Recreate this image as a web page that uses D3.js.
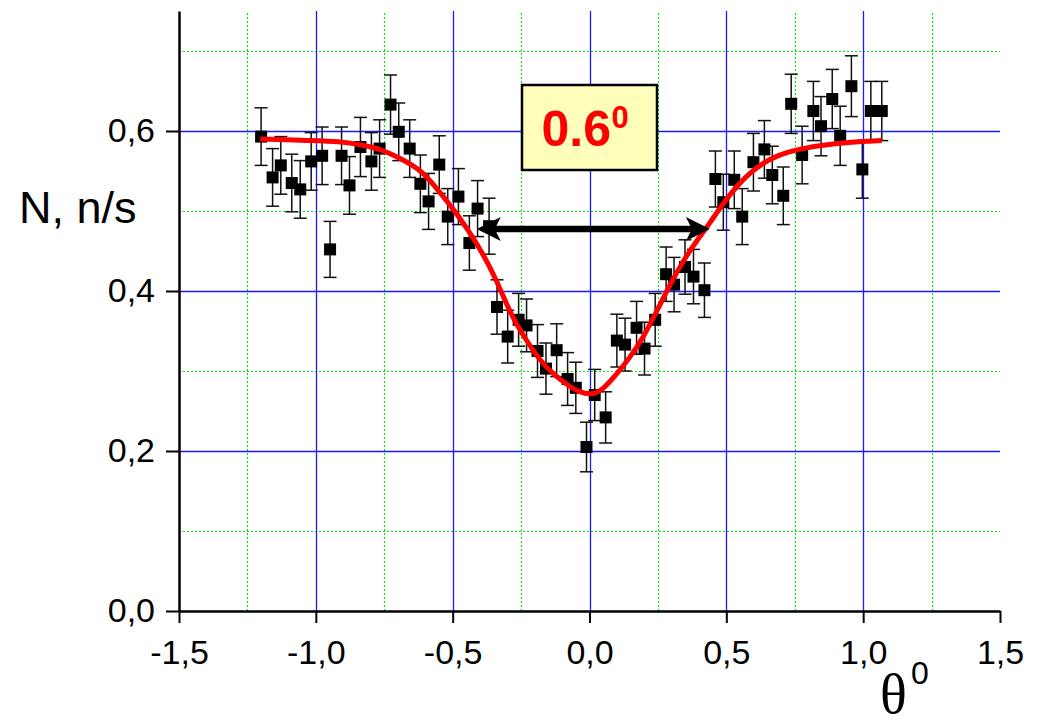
<!DOCTYPE html>
<html>
<head>
<meta charset="utf-8">
<script src="https://cdn.jsdelivr.net/npm/d3@7/dist/d3.min.js"></script>
<style>
  body { margin: 0; background: #fff; }
  svg { display: block; }
  .tick text { font-family: "Liberation Sans", Arial, sans-serif; fill: #000; }
</style>
</head>
<body>
<div class="container"></div>
<script>
const WIDTH = 1039;
const HEIGHT = 724;
const LEFT = 179;
const RIGHT = 1000;
const TOP = 11;
const BOTTOM = 611;

// measured points, theta in degrees, N in n/s
var thetaValues = [-1.200,-1.158,-1.128,-1.088,-1.057,-1.017,-0.977,-0.948,-0.906,-0.877,
    -0.837,-0.797,-0.767,-0.727,-0.697,-0.657,-0.618,-0.588,-0.549,-0.518,
    -0.479,-0.439,-0.409,-0.367,-0.338,-0.299,-0.259,-0.230,-0.190,-0.159,
    -0.120,-0.080,-0.050,-0.011,0.019,0.059,0.100,0.130,0.172,0.201,
    0.240,0.280,0.309,0.349,0.380,0.420,0.460,0.489,0.529,0.558,
    0.599,0.639,0.668,0.708,0.737,0.777,0.818,0.846,0.887,0.916,
    0.957,0.997,1.028,1.068];
var countValues = [0.593,0.542,0.557,0.535,0.527,0.562,0.569,0.452,0.569,0.532,
    0.580,0.562,0.578,0.633,0.599,0.578,0.534,0.512,0.558,0.493,
    0.518,0.460,0.503,0.481,0.380,0.343,0.364,0.357,0.325,0.303,
    0.326,0.290,0.279,0.205,0.270,0.242,0.338,0.333,0.354,0.328,
    0.364,0.421,0.408,0.430,0.418,0.401,0.540,0.511,0.539,0.493,
    0.561,0.577,0.545,0.519,0.634,0.570,0.625,0.606,0.640,0.594,
    0.656,0.552,0.625,0.625];
var errorValues = [0.036,0.036,0.036,0.036,0.036,0.036,0.036,0.035,0.036,0.036,
    0.037,0.036,0.036,0.037,0.036,0.036,0.036,0.035,0.036,0.035,
    0.035,0.034,0.035,0.035,0.034,0.033,0.033,0.033,0.033,0.032,
    0.033,0.033,0.032,0.031,0.032,0.032,0.033,0.033,0.033,0.033,
    0.033,0.034,0.034,0.034,0.034,0.034,0.035,0.035,0.036,0.035,
    0.036,0.036,0.036,0.036,0.037,0.036,0.037,0.037,0.037,0.037,
    0.038,0.036,0.037,0.037];

// fit curve
var fitTheta = [-1.203,-1.021,-0.912,-0.839,-0.766,-0.692,-0.619,-0.570,-0.510,-0.448,
    -0.388,-0.339,-0.303,-0.266,-0.230,-0.181,-0.132,-0.083,-0.035,0.010,
    0.050,0.099,0.148,0.197,0.246,0.294,0.343,0.392,0.440,0.489,
    0.538,0.586,0.635,0.684,0.757,0.890,1.068];
var fitCounts = [0.590,0.588,0.587,0.583,0.578,0.566,0.552,0.533,0.508,0.479,
    0.446,0.413,0.383,0.358,0.338,0.313,0.296,0.283,0.273,0.270,
    0.277,0.296,0.317,0.342,0.375,0.408,0.438,0.463,0.485,0.510,
    0.531,0.548,0.560,0.569,0.577,0.585,0.588];

// FWHM arrow: from, to, level
var fwhmArrow = [-0.412, 0.440, 0.4775];
var fwhmLabel = "0.6";

var xMajor = [-1.5,-1.0,-0.5,0.0,0.5,1.0,1.5];
var xTickLabels = ["-1,5","-1,0","-0,5","0,0","0,5","1,0","1,5"];
var xMinor = [-1.25,-0.75,-0.25,0.25,0.75,1.25];
var yMajor = [0.0,0.2,0.4,0.6];
var yTickLabels = ["0,0","0,2","0,4","0,6"];
var yMinor = [0.1,0.3,0.5,0.7];

var xScale = d3.scaleLinear().domain([-1.5, 1.5]).range([LEFT, RIGHT]);
var yScale = d3.scaleLinear().domain([0, 0.75]).range([BOTTOM, TOP]);

// centre thin lines on a pixel
var px = function (v) { return Math.round(v) + 0.5; };

var svg = d3.select('.container').append('svg')
    .attr('width', WIDTH)
    .attr('height', HEIGHT);

var drawGrid = function () {
    var g = svg.append('g');
    g.selectAll('line.gxm').data(xMinor).enter().append('line')
        .attr('x1', d => px(xScale(d))).attr('x2', d => px(xScale(d)))
        .attr('y1', BOTTOM).attr('y2', TOP)
        .attr('stroke', '#00ee00').attr('stroke-width', 1.2).attr('stroke-dasharray', '2,2');
    g.selectAll('line.gym').data(yMinor).enter().append('line')
        .attr('x1', LEFT).attr('x2', RIGHT)
        .attr('y1', d => px(yScale(d))).attr('y2', d => px(yScale(d)))
        .attr('stroke', '#00ee00').attr('stroke-width', 1.2).attr('stroke-dasharray', '2,2');
    g.selectAll('line.gxM').data(xMajor.filter(d => d > -1.5 && d < 1.5)).enter().append('line')
        .attr('x1', d => px(xScale(d))).attr('x2', d => px(xScale(d)))
        .attr('y1', BOTTOM).attr('y2', TOP)
        .attr('stroke', '#1a1aff').attr('stroke-width', 1.3);
    g.selectAll('line.gyM').data(yMajor.filter(d => d > 0)).enter().append('line')
        .attr('x1', LEFT).attr('x2', RIGHT)
        .attr('y1', d => px(yScale(d))).attr('y2', d => px(yScale(d)))
        .attr('stroke', '#1a1aff').attr('stroke-width', 1.3);
};

var drawAxes = function () {
    var xAxis = d3.axisBottom(xScale).tickValues(xMajor).tickSize(12).tickSizeOuter(0)
        .tickPadding(17).tickFormat((d, i) => xTickLabels[i]);
    var xMinorAxis = d3.axisBottom(xScale).tickValues(xMinor).tickSize(6).tickSizeOuter(0).tickFormat('');
    var yAxis = d3.axisLeft(yScale).tickValues(yMajor).tickSize(13).tickSizeOuter(0)
        .tickPadding(11).tickFormat((d, i) => yTickLabels[i]);
    var yMinorAxis = d3.axisLeft(yScale).tickValues(yMinor).tickSize(7).tickSizeOuter(0).tickFormat('');

    var gx = svg.append('g').attr('transform', 'translate(0,' + BOTTOM + ')');
    gx.call(xMinorAxis);
    gx.call(xAxis);
    var gy = svg.append('g').attr('transform', 'translate(' + LEFT + ',0)');
    gy.call(yMinorAxis);
    gy.call(yAxis);

    svg.selectAll('.domain').attr('stroke', '#000').attr('stroke-width', 2.5);
    svg.selectAll('.tick line').attr('stroke', '#000').attr('stroke-width', 2);
    svg.selectAll('.tick text').attr('font-size', 34);
};

var drawPoints = function () {
    var data = thetaValues.map((t, i) => ({x: t, y: countValues[i], e: errorValues[i]}));
    var g = svg.append('g');
    var bars = g.selectAll('g.err').data(data).enter().append('g')
        .attr('stroke', '#111').attr('stroke-width', 1.5);
    bars.append('line')
        .attr('x1', d => xScale(d.x)).attr('x2', d => xScale(d.x))
        .attr('y1', d => yScale(d.y - d.e)).attr('y2', d => yScale(d.y + d.e));
    bars.append('line')
        .attr('x1', d => xScale(d.x) - 6.5).attr('x2', d => xScale(d.x) + 6.5)
        .attr('y1', d => yScale(d.y + d.e)).attr('y2', d => yScale(d.y + d.e));
    bars.append('line')
        .attr('x1', d => xScale(d.x) - 6.5).attr('x2', d => xScale(d.x) + 6.5)
        .attr('y1', d => yScale(d.y - d.e)).attr('y2', d => yScale(d.y - d.e));
    g.selectAll('rect').data(data).enter().append('rect')
        .attr('x', d => xScale(d.x) - 6).attr('y', d => yScale(d.y) - 6)
        .attr('width', 12).attr('height', 12)
        .attr('fill', '#000');
};

var drawFit = function () {
    var fit = fitTheta.map((t, i) => ({x: t, y: fitCounts[i]}));
    var line = d3.line()
        .x(d => xScale(d.x))
        .y(d => yScale(d.y))
        .curve(d3.curveBasis);
    svg.append('path').datum(fit)
        .attr('d', line)
        .attr('fill', 'none')
        .attr('stroke', '#ff0000')
        .attr('stroke-width', 5);
};

var drawArrow = function () {
    var x1 = xScale(fwhmArrow[0]), x2 = xScale(fwhmArrow[1]), y = yScale(fwhmArrow[2]);
    svg.append('line')
        .attr('x1', x1 + 16).attr('x2', x2 - 16).attr('y1', y).attr('y2', y)
        .attr('stroke', '#000').attr('stroke-width', 6.5);
    svg.append('path')
        .attr('d', 'M' + x1 + ',' + y + 'L' + (x1 + 24) + ',' + (y - 12) + 'L' + (x1 + 18) + ',' + y +
            'L' + (x1 + 24) + ',' + (y + 12) + 'Z')
        .attr('fill', '#000');
    svg.append('path')
        .attr('d', 'M' + x2 + ',' + y + 'L' + (x2 - 24) + ',' + (y - 12) + 'L' + (x2 - 18) + ',' + y +
            'L' + (x2 - 24) + ',' + (y + 12) + 'Z')
        .attr('fill', '#000');
};

var drawLabel = function () {
    var cx = xScale(0);
    var g = svg.append('g');
    g.append('rect')
        .attr('x', cx - 67.5).attr('y', 85)
        .attr('width', 135).attr('height', 85)
        .attr('fill', '#ffffbb').attr('stroke', '#000').attr('stroke-width', 2.5);
    g.append('text')
        .attr('x', cx - 48).attr('y', 146)
        .attr('font-family', '"Liberation Sans", Arial, sans-serif')
        .attr('font-weight', 'bold').attr('font-size', 50)
        .attr('fill', '#ff0000')
        .text(fwhmLabel);
    g.append('text')
        .attr('x', cx + 22).attr('y', 128)
        .attr('font-family', '"Liberation Sans", Arial, sans-serif')
        .attr('font-weight', 'bold').attr('font-size', 31)
        .attr('fill', '#ff0000')
        .text('0');
};

var drawTitles = function () {
    svg.append('text')
        .attr('x', 19).attr('y', 223)
        .attr('font-family', '"Liberation Sans", Arial, sans-serif')
        .attr('font-size', 45)
        .attr('fill', '#000')
        .text('N, n/s');
    svg.append('text')
        .attr('x', 880).attr('y', 713)
        .attr('font-family', '"Liberation Serif", "Times New Roman", serif')
        .attr('font-size', 56)
        .attr('fill', '#000')
        .text('\u03b8');
    svg.append('text')
        .attr('x', 911).attr('y', 684)
        .attr('font-family', '"Liberation Sans", Arial, sans-serif')
        .attr('font-size', 32)
        .attr('fill', '#000')
        .text('0');
};

drawGrid();
drawAxes();
drawPoints();
drawFit();
drawArrow();
drawLabel();
drawTitles();
</script>
</body>
</html>
